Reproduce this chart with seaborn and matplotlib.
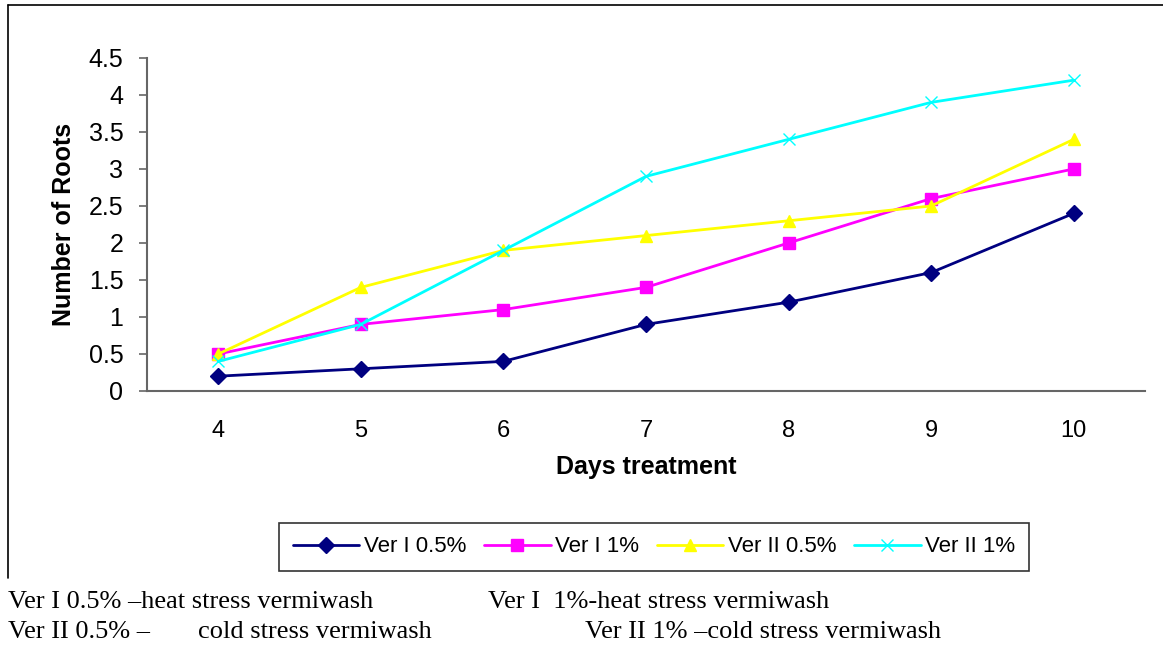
import pandas as pd
import numpy as np
import seaborn as sns
import matplotlib.pyplot as plt
from matplotlib.lines import Line2D

days = [4, 5, 6, 7, 8, 9, 10]
ver1_05 = [0.2, 0.3, 0.4, 0.9, 1.2, 1.6, 2.4]
ver1_1 = [0.5, 0.9, 1.1, 1.4, 2.0, 2.6, 3.0]
ver2_05 = [0.5, 1.4, 1.9, 2.1, 2.3, 2.5, 3.4]
ver2_1 = [0.4, 0.9, 1.9, 2.9, 3.4, 3.9, 4.2]
names = ["Ver I 0.5%", "Ver I 1%", "Ver II 0.5%", "Ver II 1%"]
colors = ["#000080", "#FF00FF", "#FFFF00", "#00FFFF"]
markers = ["D", "s", "^", "x"]
yticks = [0, 0.5, 1, 1.5, 2, 2.5, 3, 3.5, 4, 4.5]

data = pd.DataFrame({
    "day": days * 4,
    "roots": ver1_05 + ver1_1 + ver2_05 + ver2_1,
    "series": sum([[n] * len(days) for n in names], []),
})

sns.set_style("white")
plt.rcParams['font.family'] = ['Liberation Sans', 'DejaVu Sans']
plt.rcParams['text.color'] = 'black'
plt.rcParams['axes.labelcolor'] = 'black'
plt.rcParams['xtick.labelcolor'] = 'black'
plt.rcParams['ytick.labelcolor'] = 'black'

fig = plt.figure(figsize=(11.63, 6.47), dpi=100)
ax = fig.add_axes([0.1264, 0.3957, 0.9845 - 0.1264, 0.9104 - 0.3957])

for name, col, mk in zip(names, colors, markers):
    sub = data[data.series == name]
    sns.lineplot(data=sub, x="day", y="roots", color=col, marker=mk,
                 markersize=8 if mk != "x" else 9, markeredgecolor=col,
                 markeredgewidth=1.0, linewidth=2, label=name, ax=ax)

ax.set_xlim(3.5, 10.5)
ax.set_ylim(0, 4.5)
ax.set_yticks(yticks)
ax.set_yticklabels([f"{v:g}" for v in yticks], fontsize=18)
ax.set_xticks(days)
ax.set_xticklabels([str(d) for d in days], fontsize=17)
ax.set_xticks(np.arange(3.5, 11, 1), minor=True)
ax.tick_params(axis="x", which="major", length=0, pad=21)
ax.tick_params(axis="x", which="minor", length=6, width=1.2, color="#666666", direction="out")
ax.tick_params(axis="y", which="major", length=6, width=1.2, color="#666666", direction="out", left=True, pad=11)
for s in ["top", "right"]:
    ax.spines[s].set_visible(False)
for s in ["left", "bottom"]:
    ax.spines[s].set_color("#666666")
    ax.spines[s].set_linewidth(1.5)

ax.set_xlabel("Days treatment", fontsize=18, fontweight="bold", labelpad=9)
ax.set_ylabel("Number of Roots", fontsize=18, fontweight="bold", labelpad=9)

leg = ax.legend(loc="center", bbox_to_anchor=(654 / 1163, 1 - 547 / 647),
                bbox_transform=fig.transFigure, ncol=4, fontsize=16,
                frameon=True, fancybox=False, edgecolor="black",
                handlelength=3, columnspacing=0.8, handletextpad=0.2,
                borderpad=0.6)
leg.get_frame().set_linewidth(1.2)

# chart frame
fig.add_artist(Line2D([8 / 1163, 1], [1 - 5 / 647, 1 - 5 / 647], color="black", lw=1.2))
fig.add_artist(Line2D([8 / 1163, 8 / 1163], [1 - 5 / 647, 1 - 578 / 647], color="black", lw=1.2))

serif = ['Liberation Serif', 'DejaVu Serif']
fig.text(8 / 1163, 1 - 602 / 647, "Ver I 0.5% \u2013heat stress vermiwash", family=serif, fontsize=19, va="center")
fig.text(488 / 1163, 1 - 602 / 647, "Ver I  1%-heat stress vermiwash", family=serif, fontsize=19, va="center")
fig.text(8 / 1163, 1 - 632 / 647, "Ver II 0.5% \u2013", family=serif, fontsize=19, va="center")
fig.text(198 / 1163, 1 - 632 / 647, "cold stress vermiwash", family=serif, fontsize=19, va="center")
fig.text(585 / 1163, 1 - 632 / 647, "Ver II 1% \u2013cold stress vermiwash", family=serif, fontsize=19, va="center")

fig.savefig("out.png", dpi=100)
